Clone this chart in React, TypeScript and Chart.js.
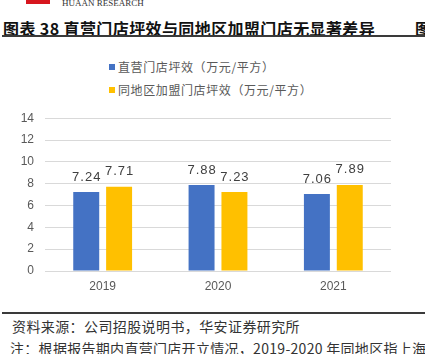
import React, { useEffect, useRef } from "react";
import { Chart, registerables } from "chart.js";

Chart.register(...registerables);

const categories = ["2019", "2020", "2021"];
const directValues = [7.24, 7.88, 7.06];
const franchiseValues = [7.71, 7.23, 7.89];
const seriesNames = ["直营门店坪效（万元/平方）", "同地区加盟门店坪效（万元/平方）"];
const seriesColors = ["#4472C4", "#FFC000"];
const yTicks = [0, 2, 4, 6, 8, 10, 12, 14];

const title = "图表 38 直营门店坪效与同地区加盟门店无显著差异";
const sourceText = "资料来源：公司招股说明书，华安证券研究所";
const noteText = "注：根据报告期内直营门店开立情况，2019-2020 年同地区指上海";

const valueLabelPlugin = {
  id: "valueLabels",
  afterDatasetsDraw(chart: any) {
    const ctx = chart.ctx;
    ctx.save();
    ctx.font = '13px "Liberation Sans", Arial, sans-serif';
    (ctx as any).letterSpacing = "1px";
    ctx.fillStyle = "#404040";
    ctx.textAlign = "center";
    ctx.textBaseline = "middle";
    chart.data.datasets.forEach((ds: any, di: number) => {
      const meta = chart.getDatasetMeta(di);
      meta.data.forEach((bar: any, i: number) => {
        const v = ds.data[i] as number;
        ctx.fillText(v.toFixed(2), bar.x + 0.5, bar.y - 15);
      });
    });
    ctx.restore();
  },
};

export default function App() {
  const ref = useRef<HTMLCanvasElement | null>(null);
  useEffect(() => {
    if (!ref.current) return;
    const chart = new Chart(ref.current, {
      type: "bar",
      data: {
        labels: categories,
        datasets: [
          {
            label: seriesNames[0],
            data: directValues,
            backgroundColor: seriesColors[0],
            categoryPercentage: 0.57,
            barPercentage: 0.79,
          },
          {
            label: seriesNames[1],
            data: franchiseValues,
            backgroundColor: seriesColors[1],
            categoryPercentage: 0.57,
            barPercentage: 0.79,
          },
        ],
      },
      options: {
        animation: false,
        responsive: false,
        layout: { padding: { top: 16, right: 34, bottom: 0, left: 0 } },
        plugins: {
          legend: { display: false },
          tooltip: { enabled: false },
        },
        scales: {
          x: {
            grid: { display: false, drawTicks: false },
            border: { display: false },
            ticks: {
              padding: 8,
              color: "#595959",
              font: { family: '"Liberation Sans", Arial, sans-serif', size: 12 },
            },
            afterFit: (s: any) => {
              s.height = 29;
            },
          },
          y: {
            min: 0,
            max: 14,
            afterBuildTicks: (s: any) => {
              s.ticks = yTicks.map((v) => ({ value: v }));
            },
            grid: { color: "#d9d9d9", lineWidth: 1, drawTicks: false },
            border: { display: false },
            ticks: {
              padding: 11,
              color: "#595959",
              font: { family: '"Liberation Sans", Arial, sans-serif', size: 12 },
            },
            afterFit: (s: any) => {
              s.width = 45;
            },
          },
        },
      },
      plugins: [valueLabelPlugin],
    });
    return () => chart.destroy();
  }, []);

  const cjk = '"Noto Sans CJK SC", "Noto Sans", sans-serif';

  return (
    <div
      style={{
        position: "fixed",
        left: 0,
        top: 0,
        width: 425,
        height: 354,
        overflow: "hidden",
        background: "#fff",
        fontFamily: cjk,
      }}
    >
      <div style={{ position: "absolute", left: 26, top: -6, width: 24, height: 10, background: "#d7161e" }} />
      <div
        style={{
          position: "absolute",
          left: 62,
          top: -2,
          fontFamily: '"Liberation Serif", serif',
          fontSize: 9,
          color: "#333",
          lineHeight: "10px",
          whiteSpace: "nowrap",
        }}
      >
        HUAAN RESEARCH
      </div>
      <div
        style={{
          position: "absolute",
          left: 3,
          top: 18,
          fontSize: 16,
          fontWeight: 600,
          color: "#111",
          lineHeight: "20px",
          whiteSpace: "nowrap",
          letterSpacing: 0.4,
        }}
      >
        {title}
      </div>
      <div style={{ position: "absolute", left: 415, top: 18, fontSize: 16, fontWeight: 600, color: "#111", lineHeight: "20px" }}>图</div>
      <div style={{ position: "absolute", left: 2, top: 35, width: 423, height: 1.5, background: "#3a3a3a" }} />

      {seriesNames.map((name, i) => (
        <div
          key={name}
          style={{
            position: "absolute",
            left: 109,
            top: 59 + i * 23,
            height: 16,
            display: "flex",
            alignItems: "center",
            whiteSpace: "nowrap",
          }}
        >
          <span style={{ display: "inline-block", width: 6, height: 6, background: seriesColors[i], marginRight: 3 }} />
          <span style={{ fontSize: 12, color: "#595959", letterSpacing: 0.6, lineHeight: "16px" }}>{name}</span>
        </div>
      ))}

      <canvas ref={ref} width={425} height={200} style={{ position: "absolute", left: 0, top: 100, width: 425, height: 200 }} />

      <div style={{ position: "absolute", left: 2, top: 312, width: 423, height: 1.5, background: "#3a3a3a" }} />
      <div
        style={{
          position: "absolute",
          left: 12,
          top: 316,
          fontSize: 14,
          color: "#333",
          lineHeight: "20px",
          whiteSpace: "nowrap",
          letterSpacing: 0.4,
        }}
      >
        {sourceText}
      </div>
      <div
        style={{
          position: "absolute",
          left: 10,
          top: 338,
          fontSize: 14,
          color: "#333",
          lineHeight: "20px",
          whiteSpace: "nowrap",
          letterSpacing: 0.3,
        }}
      >
        {noteText}
      </div>
    </div>
  );
}
